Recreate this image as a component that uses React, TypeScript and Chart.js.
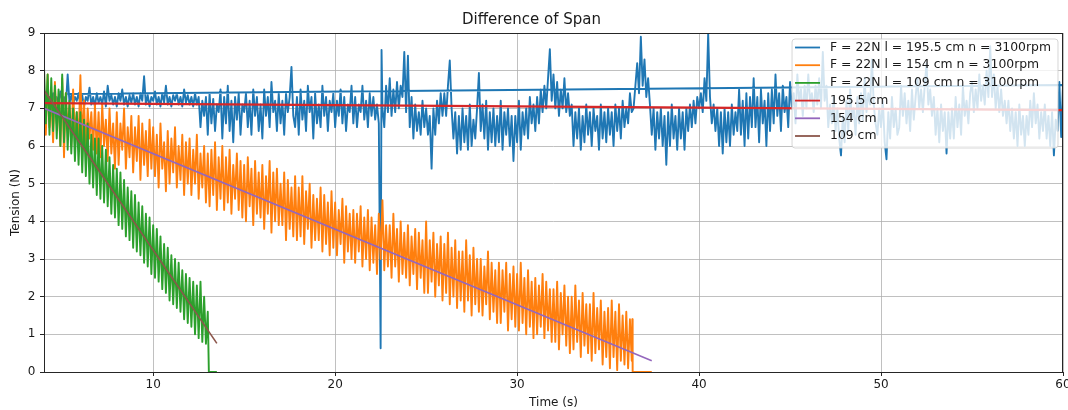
import React, { useEffect, useRef } from 'react';
import { Chart, registerables } from 'chart.js';

Chart.register(...registerables);

const chartTitle = 'Difference of Span';
const xAxisTitle = 'Time (s)';
const yAxisTitle = 'Tension (N)';
const xTickValues = [10, 20, 30, 40, 50, 60];
const xMin = 4;
const xMax = 60;
const yMin = 0;
const yMax = 9;

const seriesLabels = [
  'F = 22N l = 195.5 cm n = 3100rpm',
  'F = 22N l = 154 cm n = 3100rpm',
  'F = 22N l = 109 cm n = 3100rpm',
  '195.5 cm',
  '154 cm',
  '109 cm',
];
const seriesColors = ['#1f77b4', '#ff7f0e', '#2ca02c', '#d62728', '#9467bd', '#8c564b'];
const seriesWidths = [1.9, 1.9, 1.9, 2.2, 1.6, 1.6];

// measured tension, span 195.5 cm  [time s, tension N]
const span195: [number, number][] = [
  [4.0,7.2],[4.1,7.35],[4.2,7.1],[4.3,7.3],[4.4,7.05],[4.5,7.4],[4.6,7.15],[4.7,7.3],[4.8,7.1],[4.9,7.45],
  [5.0,7.2],[5.1,7.3],[5.2,7.05],[5.3,7.9],[5.4,7.15],[5.5,7.35],[5.6,7.1],[5.7,7.3],[5.8,7.2],[5.9,7.4],
  [6.0,7.1],[6.1,7.35],[6.2,7.05],[6.3,7.3],[6.4,7.2],[6.5,7.55],[6.6,7.1],[6.7,7.3],[6.8,7.05],[6.9,7.4],
  [7.0,7.15],[7.1,7.3],[7.2,7.1],[7.3,7.45],[7.4,7.05],[7.5,7.6],[7.6,7.2],[7.7,7.35],[7.8,7.1],[7.9,7.3],
  [8.0,7.05],[8.1,7.4],[8.2,7.2],[8.3,7.5],[8.4,7.1],[8.5,7.3],[8.6,7.05],[8.7,7.35],[8.8,7.15],[8.9,7.4],
  [9.0,7.1],[9.1,7.3],[9.2,7.05],[9.3,7.4],[9.4,7.2],[9.5,7.85],[9.6,7.1],[9.7,7.35],[9.8,7.05],[9.9,7.3],
  [10.0,7.2],[10.1,7.45],[10.2,7.1],[10.3,7.3],[10.4,7.05],[10.5,7.4],[10.6,7.15],[10.7,7.6],[10.8,7.1],[10.9,7.3],
  [11.0,7.05],[11.1,7.35],[11.2,7.2],[11.3,7.4],[11.4,7.1],[11.5,7.3],[11.6,7.05],[11.7,7.5],[11.8,7.15],[11.9,7.35],
  [12.0,7.1],[12.1,7.3],[12.2,7.05],[12.3,7.4],[12.4,7.1],[12.5,7.3],[12.6,6.5],[12.7,7.2],[12.8,6.8],[12.9,7.3],
  [13.0,6.3],[13.1,7.4],[13.2,6.6],[13.3,7.25],[13.4,6.4],[13.5,7.1],[13.6,6.9],[13.7,7.5],[13.8,6.2],[13.9,7.3],
  [14.0,6.6],[14.1,7.6],[14.2,6.4],[14.3,7.2],[14.4,6.1],[14.5,7.3],[14.6,6.7],[14.7,7.4],[14.8,6.3],[14.9,7.1],
  [15.0,6.9],[15.1,7.4],[15.2,6.5],[15.3,7.2],[15.4,6.3],[15.5,7.5],[15.6,6.8],[15.7,7.3],[15.8,6.4],[15.9,7.1],
  [16.0,6.2],[16.1,7.5],[16.2,6.8],[16.3,7.3],[16.4,6.5],[16.5,7.7],[16.6,6.9],[16.7,7.2],[16.8,6.4],[16.9,7.4],
  [17.0,6.6],[17.1,7.2],[17.2,6.3],[17.3,7.4],[17.4,6.9],[17.5,7.3],[17.6,8.1],[17.7,6.8],[17.8,6.5],[17.9,7.3],
  [18.0,6.3],[18.1,7.5],[18.2,6.7],[18.3,7.2],[18.4,6.4],[18.5,7.6],[18.6,6.9],[18.7,7.3],[18.8,6.2],[18.9,7.4],
  [19.0,6.6],[19.1,7.1],[19.2,6.5],[19.3,7.6],[19.4,6.8],[19.5,7.3],[19.6,6.4],[19.7,7.2],[19.8,6.9],[19.9,7.4],
  [20.0,6.5],[20.1,7.2],[20.2,6.8],[20.3,7.5],[20.4,6.6],[20.5,7.3],[20.6,6.4],[20.7,7.1],[20.8,6.9],[20.9,7.6],
  [21.0,6.6],[21.1,7.3],[21.2,6.5],[21.3,7.1],[21.4,6.9],[21.5,7.6],[21.6,6.7],[21.7,7.2],[21.8,6.5],[21.9,7.4],
  [22.0,6.8],[22.1,7.3],[22.2,6.7],[22.3,7.1],[22.4,6.6],[22.5,0.63],[22.55,8.55],[22.6,7.0],[22.7,6.5],[22.8,7.6],[22.9,6.9],
  [23.0,7.8],[23.1,6.8],[23.2,7.5],[23.3,6.9],[23.4,7.7],[23.5,7.0],[23.6,7.6],[23.7,7.3],[23.8,8.5],[23.9,6.9],
  [24.0,8.4],[24.1,6.5],[24.2,7.3],[24.3,6.2],[24.4,7.1],[24.5,6.4],[24.6,6.9],[24.7,6.3],[24.8,7.2],[24.9,6.5],
  [25.0,7.0],[25.1,6.3],[25.2,6.8],[25.3,5.4],[25.4,7.0],[25.5,6.3],[25.6,7.2],[25.7,6.6],[25.8,7.4],[25.9,6.8],
  [26.0,7.4],[26.1,6.8],[26.2,7.6],[26.3,8.27],[26.4,7.0],[26.5,6.2],[26.6,6.9],[26.7,5.8],[26.8,6.8],[26.9,5.9],
  [27.0,7.0],[27.1,6.1],[27.2,6.8],[27.3,5.9],[27.4,7.1],[27.5,6.0],[27.6,6.7],[27.7,6.2],[27.8,7.0],[27.9,7.94],
  [28.0,6.4],[28.1,7.1],[28.2,6.2],[28.3,7.2],[28.4,5.9],[28.5,6.9],[28.6,6.1],[28.7,7.0],[28.8,6.0],[28.9,6.8],
  [29.0,6.1],[29.1,7.2],[29.2,5.9],[29.3,6.9],[29.4,6.3],[29.5,7.0],[29.6,6.0],[29.7,6.8],[29.8,5.6],[29.9,6.8],
  [30.0,6.1],[30.1,7.2],[30.2,5.9],[30.3,6.9],[30.4,6.3],[30.5,7.0],[30.6,6.2],[30.7,7.3],[30.8,6.6],[30.9,7.1],
  [31.0,6.4],[31.1,7.3],[31.2,6.6],[31.3,7.5],[31.4,6.9],[31.5,7.6],[31.6,7.0],[31.7,7.8],[31.8,8.57],[31.9,7.2],
  [32.0,7.9],[32.1,7.0],[32.2,7.7],[32.3,6.8],[32.4,7.5],[32.5,7.0],[32.6,7.8],[32.7,6.9],[32.8,7.4],[32.9,6.8],
  [33.0,7.1],[33.1,6.0],[33.2,6.9],[33.3,6.2],[33.4,7.0],[33.5,5.9],[33.6,6.8],[33.7,6.1],[33.8,7.1],[33.9,6.3],
  [34.0,6.9],[34.1,6.0],[34.2,7.0],[34.3,6.4],[34.4,6.8],[34.5,5.9],[34.6,7.1],[34.7,6.2],[34.8,6.9],[34.9,6.1],
  [35.0,7.0],[35.1,6.3],[35.2,6.9],[35.3,6.0],[35.4,7.1],[35.5,6.4],[35.6,7.0],[35.7,6.2],[35.8,7.2],[35.9,6.5],
  [36.0,7.0],[36.1,6.6],[36.2,7.4],[36.3,6.9],[36.4,7.0],[36.5,7.6],[36.6,8.2],[36.7,7.4],[36.8,8.9],[36.9,7.6],
  [37.0,8.3],[37.1,7.3],[37.2,7.8],[37.3,7.1],[37.4,6.3],[37.5,7.0],[37.6,5.9],[37.7,6.9],[37.8,6.2],[37.9,7.0],
  [38.0,6.0],[38.1,6.8],[38.2,5.5],[38.3,6.9],[38.4,6.0],[38.5,7.1],[38.6,6.2],[38.7,6.8],[38.8,5.9],[38.9,7.0],
  [39.0,6.2],[39.1,6.9],[39.2,5.9],[39.3,7.0],[39.4,6.4],[39.5,7.1],[39.6,6.5],[39.7,7.2],[39.8,6.6],[39.9,7.3],
  [40.0,7.0],[40.1,7.4],[40.2,6.9],[40.3,7.8],[40.4,7.2],[40.5,8.98],[40.6,7.3],[40.7,6.6],[40.8,7.1],[40.9,6.4],
  [41.0,7.0],[41.1,6.0],[41.2,6.9],[41.3,5.8],[41.4,7.0],[41.5,6.1],[41.6,6.9],[41.7,6.0],[41.8,7.1],[41.9,6.3],
  [42.0,6.9],[42.1,6.4],[42.2,7.5],[42.3,6.3],[42.4,7.2],[42.5,6.0],[42.6,7.4],[42.7,6.2],[42.8,7.3],[42.9,6.5],
  [43.0,7.8],[43.1,6.5],[43.2,7.3],[43.3,6.1],[43.4,7.5],[43.5,6.6],[43.6,7.2],[43.7,6.0],[43.8,7.4],[43.9,6.4],
  [44.0,7.5],[44.1,6.6],[44.2,7.9],[44.3,6.8],[44.4,7.4],[44.5,6.4],[44.6,7.6],[44.7,6.9],[44.8,7.3],[44.9,6.5],
  [45.0,7.7],[45.1,7.0],[45.2,7.4],[45.3,6.6],[45.4,7.9],[45.5,7.2],[45.6,7.5],[45.7,6.8],[45.8,7.6],[45.9,7.0],
  [46.0,7.9],[46.1,7.2],[46.2,7.4],[46.3,6.9],[46.4,7.6],[46.5,7.1],[46.6,7.8],[46.7,7.0],[46.8,8.5],[46.9,7.2],
  [47.0,7.6],[47.1,6.5],[47.2,7.1],[47.3,6.6],[47.4,7.3],[47.5,6.4],[47.6,7.0],[47.7,6.2],[47.8,5.75],[47.9,6.8],
  [48.0,6.1],[48.1,7.2],[48.2,6.4],[48.3,7.5],[48.4,6.7],[48.5,7.0],[48.6,6.3],[48.7,7.3],[48.8,6.6],[48.9,7.4],
  [49.0,6.7],[49.1,7.8],[49.2,6.9],[49.3,7.4],[49.4,7.1],[49.5,8.3],[49.6,7.1],[49.7,6.6],[49.8,6.3],[49.9,7.0],
  [50.0,6.5],[50.1,7.2],[50.2,6.1],[50.3,5.65],[50.4,6.9],[50.5,6.2],[50.6,7.3],[50.7,6.5],[50.8,7.0],[50.9,6.3],
  [51.0,6.5],[51.1,7.6],[51.2,6.8],[51.3,7.4],[51.4,6.6],[51.5,7.2],[51.6,6.4],[51.7,7.5],[51.8,6.7],[51.9,7.3],
  [52.0,7.8],[52.1,7.0],[52.2,7.5],[52.3,6.9],[52.4,7.6],[52.5,8.2],[52.6,7.1],[52.7,7.5],[52.8,6.8],[52.9,7.3],
  [53.0,6.3],[53.1,7.0],[53.2,6.1],[53.3,7.1],[53.4,6.4],[53.5,6.9],[53.6,5.8],[53.7,6.9],[53.8,6.2],[53.9,7.0],
  [54.0,6.2],[54.1,7.3],[54.2,6.5],[54.3,7.1],[54.4,6.3],[54.5,7.6],[54.6,6.8],[54.7,7.2],[54.8,6.6],[54.9,7.4],
  [55.0,7.7],[55.1,6.9],[55.2,7.5],[55.3,7.0],[55.4,7.9],[55.5,7.2],[55.6,7.6],[55.7,7.1],[55.8,8.0],[55.9,7.3],
  [56.0,8.65],[56.1,7.3],[56.2,7.9],[56.3,7.0],[56.4,7.6],[56.5,6.9],[56.6,7.5],[56.7,6.8],[56.8,7.2],[56.9,6.6],
  [57.0,7.2],[57.1,6.4],[57.2,7.0],[57.3,6.2],[57.4,6.9],[57.5,6.0],[57.6,7.1],[57.7,6.3],[57.8,6.8],[57.9,6.0],
  [58.0,6.8],[58.1,6.3],[58.2,7.2],[58.3,6.5],[58.4,7.4],[58.5,6.6],[58.6,7.1],[58.7,6.2],[58.8,6.9],[58.9,6.4],
  [59.0,7.1],[59.1,6.2],[59.2,6.8],[59.3,6.0],[59.4,6.9],[59.5,5.75],[59.6,6.7],[59.7,6.4],[59.8,7.7],[59.9,6.24],
  [60.0,7.62],[5.3,7.38],
];

// measured tension, span 154 cm
const span154: [number, number][] = [
  [4.0,7.6],[4.1,6.3],[4.2,7.9],[4.3,6.5],[4.4,7.3],[4.5,6.1],[4.6,7.7],[4.7,6.6],[4.8,7.2],[4.9,6.0],
  [5.0,7.8],[5.1,5.7],[5.2,7.4],[5.3,6.4],[5.4,7.1],[5.5,6.0],[5.6,7.5],[5.7,6.3],[5.8,6.9],[5.9,6.1],
  [6.0,7.88],[6.1,6.1],[6.2,7.2],[6.3,5.8],[6.4,7.0],[6.5,6.2],[6.6,6.9],[6.7,5.9],[6.8,7.1],[6.9,5.8],
  [7.0,6.9],[7.1,5.7],[7.2,7.1],[7.3,6.0],[7.4,6.7],[7.5,5.6],[7.6,7.0],[7.7,5.8],[7.8,6.6],[7.9,5.4],
  [8.0,6.9],[8.1,5.5],[8.2,6.6],[8.3,5.9],[8.4,7.0],[8.5,5.4],[8.6,6.5],[8.7,5.7],[8.8,6.8],[8.9,5.3],
  [9.0,6.5],[9.1,5.6],[9.2,6.8],[9.3,5.1],[9.4,6.6],[9.5,5.5],[9.6,6.4],[9.7,5.2],[9.8,6.7],[9.9,5.4],
  [10.0,6.5],[10.1,5.2],[10.2,6.3],[10.3,4.9],[10.4,6.6],[10.5,5.4],[10.6,6.1],[10.7,4.8],[10.8,6.4],[10.9,5.0],
  [11.0,6.2],[11.1,5.3],[11.2,6.5],[11.3,4.9],[11.4,6.0],[11.5,5.1],[11.6,6.3],[11.7,4.7],[11.8,6.1],[11.9,5.0],
  [12.0,6.2],[12.1,4.7],[12.2,5.9],[12.3,5.0],[12.4,6.3],[12.5,4.6],[12.6,5.8],[12.7,4.9],[12.8,6.0],[12.9,4.5],
  [13.0,5.8],[13.1,4.4],[13.2,5.9],[13.3,4.7],[13.4,6.1],[13.5,4.3],[13.6,5.7],[13.7,4.6],[13.8,6.0],[13.9,4.3],
  [14.0,5.7],[14.1,4.5],[14.2,5.9],[14.3,4.2],[14.4,5.5],[14.5,4.6],[14.6,5.8],[14.7,4.3],[14.8,5.6],[14.9,4.1],
  [15.0,5.5],[15.1,4.0],[15.2,5.7],[15.3,4.4],[15.4,5.4],[15.5,3.9],[15.6,5.6],[15.7,4.2],[15.8,5.3],[15.9,4.1],
  [16.0,5.5],[16.1,3.8],[16.2,5.2],[16.3,4.2],[16.4,5.6],[16.5,3.7],[16.6,5.3],[16.7,4.0],[16.8,5.4],[16.9,3.9],
  [17.0,5.0],[17.1,3.9],[17.2,5.3],[17.3,3.5],[17.4,5.1],[17.5,3.8],[17.6,4.9],[17.7,3.6],[17.8,5.2],[17.9,3.5],
  [18.0,4.9],[18.1,3.6],[18.2,5.2],[18.3,3.4],[18.4,4.8],[18.5,3.8],[18.6,5.0],[18.7,3.3],[18.8,4.7],[18.9,3.5],
  [19.0,4.6],[19.1,3.5],[19.2,4.9],[19.3,3.2],[19.4,4.7],[19.5,3.4],[19.6,4.5],[19.7,3.1],[19.8,4.8],[19.9,3.3],
  [20.0,4.5],[20.1,3.1],[20.2,4.3],[20.3,3.4],[20.4,4.6],[20.5,2.9],[20.6,4.4],[20.7,3.2],[20.8,4.2],[20.9,3.0],
  [21.0,4.3],[21.1,2.9],[21.2,4.2],[21.3,3.2],[21.4,4.4],[21.5,2.8],[21.6,4.1],[21.7,3.0],[21.8,4.3],[21.9,2.7],
  [22.0,4.1],[22.1,2.9],[22.2,3.9],[22.3,2.6],[22.4,4.2],[22.5,3.0],[22.6,4.56],[22.7,2.7],[22.8,3.9],[22.9,2.8],
  [23.0,3.9],[23.1,2.5],[23.2,4.2],[23.3,2.8],[23.4,3.8],[23.5,2.4],[23.6,4.0],[23.7,2.6],[23.8,3.7],[23.9,2.5],
  [24.0,3.9],[24.1,2.3],[24.2,3.6],[24.3,2.6],[24.4,3.8],[24.5,2.2],[24.6,3.7],[24.7,2.5],[24.8,3.5],[24.9,2.1],
  [25.0,4.0],[25.1,2.1],[25.2,3.5],[25.3,2.4],[25.4,3.7],[25.5,2.0],[25.6,3.4],[25.7,2.3],[25.8,3.6],[25.9,1.9],
  [26.0,3.4],[26.1,2.1],[26.2,3.7],[26.3,1.8],[26.4,3.3],[26.5,2.0],[26.6,3.5],[26.7,1.7],[26.8,3.2],[26.9,1.9],
  [27.0,3.2],[27.1,1.6],[27.2,3.5],[27.3,1.9],[27.4,3.1],[27.5,1.5],[27.6,3.3],[27.7,1.8],[27.8,3.0],[27.9,1.6],
  [28.0,3.0],[28.1,1.5],[28.2,2.8],[28.3,1.8],[28.4,3.2],[28.5,1.4],[28.6,2.9],[28.7,1.6],[28.8,2.7],[28.9,1.3],
  [29.0,2.9],[29.1,1.3],[29.2,2.7],[29.3,1.6],[29.4,2.9],[29.5,1.1],[29.6,2.6],[29.7,1.4],[29.8,2.8],[29.9,1.2],
  [30.0,2.6],[30.1,1.1],[30.2,2.9],[30.3,1.3],[30.4,2.5],[30.5,1.0],[30.6,2.7],[30.7,1.2],[30.8,2.4],[30.9,0.9],
  [31.0,2.5],[31.1,1.0],[31.2,2.3],[31.3,1.2],[31.4,2.6],[31.5,0.9],[31.6,2.4],[31.7,1.1],[31.8,2.2],[31.9,0.8],
  [32.0,2.2],[32.1,0.8],[32.2,2.4],[32.3,0.6],[32.4,2.1],[32.5,1.0],[32.6,2.3],[32.7,0.7],[32.8,2.0],[32.9,0.5],
  [33.0,2.0],[33.1,0.6],[33.2,2.3],[33.3,0.8],[33.4,1.9],[33.5,0.4],[33.6,2.1],[33.7,0.7],[33.8,1.8],[33.9,0.5],
  [34.0,1.8],[34.1,0.3],[34.2,2.1],[34.3,0.5],[34.4,1.7],[34.5,0.6],[34.6,1.9],[34.7,0.2],[34.8,1.6],[34.9,0.4],
  [35.0,1.7],[35.1,0.1],[35.2,1.9],[35.3,0.4],[35.4,1.6],[35.5,0.05],[35.6,1.8],[35.7,0.3],[35.8,1.5],[35.9,0.2],
  [36.0,1.6],[36.1,0.1],[36.2,1.4],[36.3,0.3],[36.33,1.4],[36.35,0],[37.4,0],
];

// measured tension, span 109 cm
const span109: [number, number][] = [
  [4.0,8.1],[4.1,6.6],[4.2,7.9],[4.3,6.3],[4.4,7.8],[4.5,6.4],[4.6,7.6],[4.7,6.2],[4.8,7.5],[4.9,6.0],
  [5.0,7.9],[5.1,6.1],[5.2,7.4],[5.3,5.9],[5.4,7.2],[5.5,5.8],[5.6,7.0],[5.7,5.6],[5.8,6.9],[5.9,5.5],
  [6.0,6.9],[6.1,5.3],[6.2,6.7],[6.3,5.2],[6.4,6.6],[6.5,5.0],[6.6,6.3],[6.7,4.9],[6.8,6.2],[6.9,4.7],
  [7.0,6.2],[7.1,4.6],[7.2,6.0],[7.3,4.5],[7.4,5.9],[7.5,4.4],[7.6,5.7],[7.7,4.2],[7.8,5.5],[7.9,4.1],
  [8.0,5.4],[8.1,3.9],[8.2,5.3],[8.3,3.8],[8.4,5.1],[8.5,3.6],[8.6,4.9],[8.7,3.5],[8.8,4.8],[8.9,3.3],
  [9.0,4.7],[9.1,3.2],[9.2,4.5],[9.3,3.1],[9.4,4.4],[9.5,2.9],[9.6,4.2],[9.7,2.8],[9.8,4.1],[9.9,2.6],
  [10.0,3.9],[10.1,2.5],[10.2,3.8],[10.3,2.4],[10.4,3.6],[10.5,2.2],[10.6,3.4],[10.7,2.1],[10.8,3.3],[10.9,1.9],
  [11.0,3.1],[11.1,1.8],[11.2,3.0],[11.3,1.7],[11.4,2.9],[11.5,1.6],[11.6,2.7],[11.7,1.4],[11.8,2.6],[11.9,1.3],
  [12.0,2.5],[12.1,1.2],[12.2,2.4],[12.3,1.0],[12.4,2.3],[12.5,0.9],[12.6,2.4],[12.7,0.8],[12.8,2.0],[12.9,0.75],
  [13.0,1.6],[13.06,0],[13.5,0],
];

// linear fits
const fit195: [number, number][] = [[4, 7.14], [60, 6.95]];
const fit154: [number, number][] = [[4, 7.0], [37.4, 0.3]];
const fit109: [number, number][] = [[4, 7.48], [13.5, 0.76]];

const seriesData = [span195, span154, span109, fit195, fit154, fit109];

const FONT = '"DejaVu Sans", "Liberation Sans", sans-serif';
const TEXT = '#1a1a1a';

const overlayPlugin = {
  id: 'mplOverlay',
  afterDatasetsDraw(chart: any) {
    const { ctx, chartArea: a } = chart;
    ctx.save();
    ctx.strokeStyle = '#262626';
    ctx.lineWidth = 1;
    ctx.strokeRect(a.left + 0.5, a.top + 0.5, a.right - a.left - 1, a.bottom - a.top);
    const fontPx = 12.4;
    ctx.font = `${fontPx}px ${FONT}`;
    const labels: string[] = chart.data.datasets.map((d: any) => d.label);
    const maxW = Math.max(...labels.map((l) => ctx.measureText(l).width));
    const handle = 25;
    const padL = 3;
    const gap = 10;
    const padR = 7;
    const rowH = 17.7;
    const boxW = padL + handle + gap + maxW + padR;
    const boxH = 109;
    const right = a.right - 5;
    const top = a.top + 6;
    const left = right - boxW;
    const r = 3;
    ctx.beginPath();
    ctx.moveTo(left + r, top);
    ctx.lineTo(left + boxW - r, top);
    ctx.quadraticCurveTo(left + boxW, top, left + boxW, top + r);
    ctx.lineTo(left + boxW, top + boxH - r);
    ctx.quadraticCurveTo(left + boxW, top + boxH, left + boxW - r, top + boxH);
    ctx.lineTo(left + r, top + boxH);
    ctx.quadraticCurveTo(left, top + boxH, left, top + boxH - r);
    ctx.lineTo(left, top + r);
    ctx.quadraticCurveTo(left, top, left + r, top);
    ctx.closePath();
    ctx.fillStyle = 'rgba(255,255,255,0.8)';
    ctx.fill();
    ctx.strokeStyle = 'rgba(204,204,204,0.8)';
    ctx.lineWidth = 1;
    ctx.stroke();
    ctx.textBaseline = 'middle';
    ctx.textAlign = 'left';
    chart.data.datasets.forEach((d: any, i: number) => {
      const y = top + 8.5 + i * rowH;
      ctx.strokeStyle = d.borderColor;
      ctx.lineWidth = 1.8;
      ctx.beginPath();
      ctx.moveTo(left + padL, y);
      ctx.lineTo(left + padL + handle, y);
      ctx.stroke();
      ctx.fillStyle = TEXT;
      ctx.fillText(d.label, left + padL + handle + gap, y);
    });
    ctx.restore();
  },
};

export default function App() {
  const canvasRef = useRef<HTMLCanvasElement | null>(null);

  useEffect(() => {
    const canvas = canvasRef.current;
    if (!canvas) return;
    Chart.defaults.font.family = FONT;
    const datasets = seriesData.map((pts, i) => ({
      label: seriesLabels[i],
      data: pts.map(([x, y]) => ({ x, y })),
      borderColor: seriesColors[i],
      backgroundColor: seriesColors[i],
      borderWidth: seriesWidths[i],
      pointRadius: 0,
      pointHoverRadius: 0,
      tension: 0,
      fill: false,
      borderJoinStyle: 'round' as const,
      order: seriesData.length - 1 - i,
    }));
    const chart = new Chart(canvas, {
      type: 'line',
      data: { datasets },
      options: {
        animation: false,
        responsive: false,
        events: [],
        layout: { padding: { left: 0, right: 5, top: 0, bottom: 0 } },
        plugins: {
          legend: { display: false },
          tooltip: { enabled: false },
          title: {
            display: true,
            text: chartTitle,
            color: TEXT,
            font: { size: 15, weight: 'normal', family: FONT },
            padding: { top: 11, bottom: 4 },
          },
        },
        scales: {
          x: {
            type: 'linear',
            min: xMin,
            max: xMax,
            afterBuildTicks: (s: any) => {
              s.ticks = xTickValues.map((v) => ({ value: v }));
            },
            afterFit: (s: any) => {
              s.height = 38;
              s.paddingLeft = 0;
              s.paddingRight = 0;
            },
            grid: { color: '#b0b0b0', lineWidth: 0.8, tickColor: '#262626', tickLength: 4, tickWidth: 1 },
            border: { display: false },
            ticks: { color: TEXT, font: { size: 12 }, padding: 2, maxRotation: 0, autoSkip: false },
            title: { display: true, text: xAxisTitle, color: TEXT, font: { size: 12 }, padding: { top: 0, bottom: 0 } },
          },
          y: {
            type: 'linear',
            min: yMin,
            max: yMax,
            afterFit: (s: any) => {
              s.width = 44;
            },
            grid: { color: '#b0b0b0', lineWidth: 0.8, tickColor: '#262626', tickLength: 4, tickWidth: 1 },
            border: { display: false },
            ticks: { color: TEXT, font: { size: 12 }, padding: 4.5, stepSize: 1 },
            title: { display: true, text: yAxisTitle, color: TEXT, font: { size: 12 }, padding: { top: 8.8, bottom: 0 } },
          },
        },
      },
      plugins: [overlayPlugin],
    });
    return () => chart.destroy();
  }, []);

  return (
    <div style={{ position: 'absolute', left: 0, top: 0, width: 1068, height: 410, background: '#fff' }}>
      <canvas ref={canvasRef} width={1068} height={410} style={{ display: 'block' }} />
    </div>
  );
}
